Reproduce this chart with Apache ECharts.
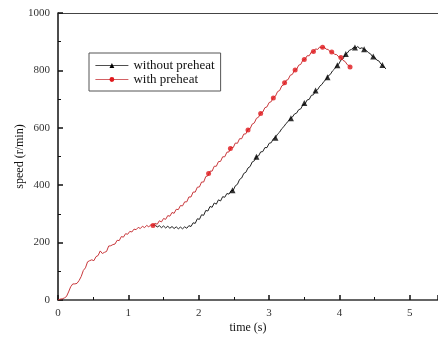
<!DOCTYPE html>
<html>
<head>
<meta charset="utf-8">
<script src="https://cdn.jsdelivr.net/npm/echarts@6/dist/echarts.min.js"></script>
<style>
  html, body { margin: 0; padding: 0; background: #fff; }
  #chart { width: 438px; height: 338px; }
</style>
</head>
<body>
<div id="chart"></div>
<script>
// with preheat: dense trace [time s, speed r/min]
var withTrace = [
  [0.00, 0], [0.03, 3], [0.06, 4], [0.09, 7], [0.12, 12], [0.15, 28], [0.18, 46], [0.21, 56],
  [0.24, 56], [0.27, 58], [0.30, 68], [0.33, 82], [0.36, 103], [0.39, 112], [0.42, 133], [0.45, 137],
  [0.48, 140], [0.51, 137], [0.54, 151], [0.57, 155], [0.60, 171], [0.63, 162], [0.66, 166], [0.69, 169],
  [0.72, 188], [0.75, 189], [0.78, 193], [0.81, 195], [0.84, 208], [0.87, 207], [0.90, 221], [0.93, 219],
  [0.96, 231], [0.99, 229], [1.02, 239], [1.05, 237], [1.08, 247], [1.11, 245], [1.14, 253], [1.17, 249],
  [1.20, 257], [1.23, 252], [1.26, 260], [1.29, 255], [1.32, 262], [1.35, 260], [1.38, 267], [1.41, 264],
  [1.44, 276], [1.47, 272], [1.50, 284], [1.53, 281], [1.56, 294], [1.59, 292], [1.62, 305], [1.65, 302],
  [1.68, 316], [1.71, 315], [1.74, 329], [1.77, 328], [1.80, 342], [1.83, 342], [1.86, 359], [1.89, 359],
  [1.92, 376], [1.95, 376], [1.98, 393], [2.01, 394], [2.04, 411], [2.07, 411], [2.10, 430], [2.13, 433],
  [2.16, 449], [2.19, 449], [2.22, 466], [2.25, 466], [2.28, 482], [2.31, 483], [2.34, 499], [2.37, 499],
  [2.40, 515], [2.43, 516], [2.46, 532], [2.49, 531], [2.52, 547], [2.55, 546], [2.58, 562], [2.61, 562],
  [2.64, 578], [2.67, 579], [2.70, 595], [2.73, 597], [2.76, 613], [2.79, 617], [2.82, 633], [2.85, 637],
  [2.88, 652], [2.91, 655], [2.94, 670], [2.97, 673], [3.00, 688], [3.03, 691], [3.06, 706], [3.09, 710],
  [3.12, 726], [3.15, 730], [3.18, 746], [3.21, 750], [3.24, 765], [3.27, 768], [3.30, 783], [3.33, 786],
  [3.36, 800], [3.39, 803], [3.42, 818], [3.45, 821], [3.48, 836], [3.51, 838], [3.54, 851], [3.57, 851],
  [3.60, 864], [3.63, 864], [3.66, 875], [3.69, 873], [3.72, 882], [3.75, 878], [3.78, 882], [3.81, 874],
  [3.84, 873], [3.87, 864], [3.90, 864], [3.93, 856], [3.96, 855], [3.99, 847], [4.02, 846], [4.05, 835],
  [4.08, 831], [4.11, 820], [4.14, 816], [4.15, 812]
]
var withMarks = [
  [1.35, 260], [2.14, 441], [2.45, 528], [2.70, 592], [2.88, 650], [3.06, 704], [3.22, 757],
  [3.37, 801], [3.50, 838], [3.63, 866], [3.76, 881], [3.89, 864], [4.02, 845], [4.15, 812]
]

// without preheat
var withoutTrace = [
  [1.35, 260], [1.38, 262], [1.41, 254], [1.44, 259], [1.47, 252], [1.50, 258], [1.53, 251], [1.56, 257],
  [1.59, 250], [1.62, 256], [1.65, 249], [1.68, 255], [1.71, 248], [1.74, 254], [1.77, 248], [1.80, 255],
  [1.83, 250], [1.86, 259], [1.89, 256], [1.92, 269], [1.95, 267], [1.98, 283], [2.01, 281], [2.04, 297],
  [2.07, 295], [2.10, 312], [2.13, 310], [2.16, 326], [2.19, 323], [2.22, 338], [2.25, 334], [2.28, 349],
  [2.31, 345], [2.34, 360], [2.37, 358], [2.40, 371], [2.43, 369], [2.46, 381], [2.49, 382], [2.52, 398],
  [2.55, 403], [2.58, 420], [2.61, 425], [2.64, 441], [2.67, 445], [2.70, 460], [2.73, 465], [2.76, 481],
  [2.79, 485], [2.82, 500], [2.85, 502], [2.88, 516], [2.91, 517], [2.94, 531], [2.97, 531], [3.00, 546],
  [3.03, 548], [3.06, 562], [3.09, 566], [3.12, 578], [3.15, 585], [3.18, 597], [3.21, 604], [3.24, 615],
  [3.27, 622], [3.30, 632], [3.33, 637], [3.36, 648], [3.39, 651], [3.42, 663], [3.45, 666], [3.48, 680],
  [3.51, 683], [3.54, 697], [3.57, 699], [3.60, 713], [3.63, 715], [3.66, 729], [3.69, 733], [3.72, 745],
  [3.75, 751], [3.78, 762], [3.81, 769], [3.84, 781], [3.87, 786], [3.90, 798], [3.93, 805], [3.96, 817],
  [3.99, 822], [4.02, 836], [4.05, 840], [4.08, 855], [4.11, 860], [4.14, 870], [4.17, 873], [4.20, 880],
  [4.23, 878], [4.26, 883], [4.29, 876], [4.32, 879], [4.35, 873], [4.38, 870], [4.41, 862], [4.44, 858],
  [4.47, 848], [4.50, 846], [4.53, 836], [4.56, 833], [4.59, 822], [4.62, 816], [4.66, 805]
]
var withoutMarks = [
  [2.48, 382], [2.82, 499], [3.09, 565], [3.31, 633], [3.50, 686], [3.66, 730], [3.83, 776],
  [3.97, 818], [4.09, 857], [4.22, 880], [4.35, 874], [4.48, 848], [4.61, 819]
]

var seriesNames = ['without preheat', 'with preheat']

var serif = 'Liberation Serif'
var chart = echarts.init(document.getElementById('chart'))

chart.setOption({
  animation: false,
  grid: { left: 58, top: 13, right: 0, bottom: 38, containLabel: false, outerBoundsMode: 'none' },
  legend: {
    data: seriesNames,
    orient: 'vertical',
    left: 89,
    top: 53,
    width: 133,
    padding: [6, 6, 5, 6],
    itemGap: 1,
    itemWidth: 33,
    itemHeight: 6,
    borderColor: '#555',
    borderWidth: 1,
    lineStyle: { width: 0.8 },
    textStyle: { fontFamily: serif, fontSize: 13, color: '#111' }
  },
  xAxis: [
    {
      type: 'value',
      min: 0,
      max: 5.4,
      interval: 1,
      name: 'time (s)',
      nameLocation: 'middle',
      nameGap: 22,
      nameMoveOverlap: false,
      nameTextStyle: { fontFamily: serif, fontSize: 12, color: '#111' },
      axisLine: { lineStyle: { color: '#333', width: 1.5 } },
      axisTick: { inside: true, length: 5, lineStyle: { color: '#111', width: 1.5 } },
      minorTick: { show: true, splitNumber: 2, length: 3, lineStyle: { color: '#111' } },
      axisLabel: { fontFamily: serif, fontSize: 11, color: '#333', margin: 8, showMaxLabel: false },
      splitLine: { show: false }
    },
    {
      type: 'value',
      position: 'top',
      min: 0,
      max: 5.4,
      axisLine: { show: true, lineStyle: { color: '#444', width: 1 } },
      axisTick: { show: false },
      axisLabel: { show: false },
      splitLine: { show: false }
    }
  ],
  yAxis: {
    type: 'value',
    min: 0,
    max: 1000,
    interval: 200,
    name: 'speed (r/min)',
    nameLocation: 'middle',
    nameGap: 32,
    nameMoveOverlap: false,
    nameTextStyle: { fontFamily: serif, fontSize: 12, color: '#111' },
    axisLine: { lineStyle: { color: '#111', width: 1.5 } },
    axisTick: { inside: true, length: 5, lineStyle: { color: '#111', width: 1.5 } },
    minorTick: { show: true, splitNumber: 2, length: 3, lineStyle: { color: '#111' } },
    axisLabel: { fontFamily: serif, fontSize: 11, color: '#333', margin: 8, formatter: function (v) { return String(v) } },
    splitLine: { show: false }
  },
  series: [
    {
      name: seriesNames[0],
      type: 'line',
      data: withoutTrace,
      symbol: 'triangle',
      symbolSize: 6,
      showSymbol: false,
      itemStyle: { color: '#000' },
      lineStyle: { color: '#222', width: 1 },
      z: 2
    },
    {
      name: seriesNames[0],
      type: 'scatter',
      data: withoutMarks,
      symbol: 'triangle',
      symbolSize: 6,
      itemStyle: { color: '#000' },
      z: 4
    },
    {
      name: seriesNames[1],
      type: 'line',
      data: withTrace,
      symbol: 'circle',
      symbolSize: 5,
      showSymbol: false,
      itemStyle: { color: '#e0181c' },
      lineStyle: { color: '#c8383c', width: 1 },
      z: 2
    },
    {
      name: seriesNames[1],
      type: 'scatter',
      data: withMarks,
      symbol: 'circle',
      symbolSize: 5,
      itemStyle: { color: '#e0181c' },
      z: 3
    }
  ]
})
</script>
</body>
</html>
